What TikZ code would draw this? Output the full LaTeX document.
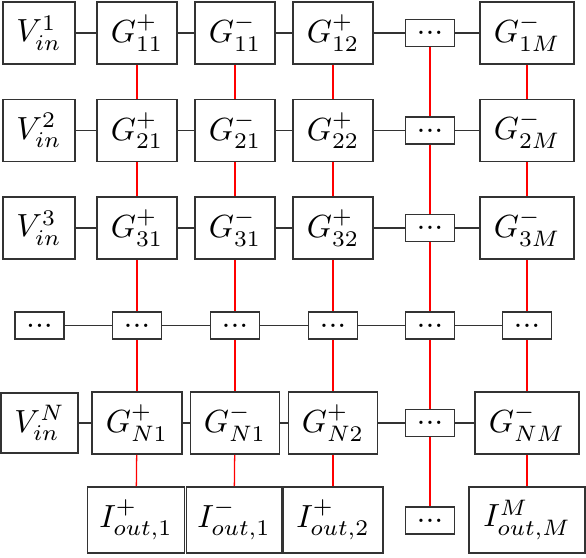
\documentclass[tikz,border=0pt]{standalone}
\begin{document}
\begin{tikzpicture}[x=0.3125pt,y=-0.3125pt,
  bx/.style={draw=black!80, line width=0.6pt, inner sep=0pt, minimum height=19.375pt,
     fill=white},
  gb/.style={bx, minimum width=25pt},
  vb/.style={bx, minimum width=22.5pt},
  db/.style={bx, minimum width=15.3pt, minimum height=8.45pt},
  ib/.style={bx, minimum height=20.6pt},
  hl/.style={draw=black!80, line width=0.6pt},
  rl/.style={draw=red, line width=0.4pt}]
\useasboundingbox (0,0) rectangle (586,558);
% row 1
\node[vb] (v1) at (39,33) {$V_{in}^{1}$};
\node[gb] (g11) at (137,33) {$G_{11}^{+}$};
\node[gb] (g12) at (235,33) {$G_{11}^{-}$};
\node[gb] (g13) at (333,33) {$G_{12}^{+}$};
\node[db] (g14) at (430,33) {...};
\node[gb, minimum width=29.4pt] (g15) at (527,33) {$G_{1M}^{-}$};
% row 2
\node[vb] (v2) at (39,130.5) {$V_{in}^{2}$};
\node[gb] (g21) at (137,130.5) {$G_{21}^{+}$};
\node[gb] (g22) at (235,130.5) {$G_{21}^{-}$};
\node[gb] (g23) at (333,130.5) {$G_{22}^{+}$};
\node[db] (g24) at (430,130.5) {...};
\node[gb, minimum width=29.4pt] (g25) at (527,130.5) {$G_{2M}^{-}$};
% row 3
\node[vb] (v3) at (39,228) {$V_{in}^{3}$};
\node[gb] (g31) at (137,228) {$G_{31}^{+}$};
\node[gb] (g32) at (235,228) {$G_{31}^{-}$};
\node[gb] (g33) at (333,228) {$G_{32}^{+}$};
\node[db] (g34) at (430,228) {...};
\node[gb, minimum width=29.4pt] (g35) at (527,228) {$G_{3M}^{-}$};
% dots row
\node[db] (v4) at (39.5,325.5) {...};
\node[db] (g41) at (137,325.5) {...};
\node[db] (g42) at (235,325.5) {...};
\node[db] (g43) at (333,325.5) {...};
\node[db] (g44) at (430,325.5) {...};
\node[db] (g45) at (527,325.5) {...};
% row N
\node[vb, minimum width=24.1pt, minimum height=18.75pt] (v5) at (39.5,423) {$V_{in}^{N}$};
\node[gb, minimum width=28.1pt] (g51) at (137,423) {$G_{N1}^{+}$};
\node[gb, minimum width=27.8pt] (g52) at (235,423) {$G_{N1}^{-}$};
\node[gb, minimum width=27.8pt] (g53) at (333,423) {$G_{N2}^{+}$};
\node[db] (g54) at (430,423) {...};
\node[gb, minimum width=32.5pt] (g55) at (527,423) {$G_{NM}^{-}$};
% outputs
\node[ib, minimum width=30.3pt] (o1) at (136,520) {$I_{out,1}^{+}$};
\node[ib, minimum width=29.7pt] (o2) at (234,520) {$I_{out,1}^{-}$};
\node[ib, minimum width=31.25pt] (o3) at (333,520) {$I_{out,2}^{+}$};
\node[db] (o4) at (430,520.5) {...};
\node[ib, minimum width=36.25pt] (o5) at (527,520) {$I_{out,M}^{M}$};
% horizontal connectors
\foreach \r in {1,...,5}{
  \draw[hl] (v\r) -- (g\r1);
  \draw[hl] (g\r1) -- (g\r2);
  \draw[hl] (g\r2) -- (g\r3);
  \draw[hl] (g\r3) -- (g\r4);
  \draw[hl] (g\r4) -- (g\r5);
}
% vertical connectors
\foreach \c in {1,...,5}{
  \draw[rl] (g1\c) -- (g2\c);
  \draw[rl] (g2\c) -- (g3\c);
  \draw[rl] (g3\c) -- (g4\c);
  \draw[rl] (g4\c) -- (g5\c);
  \draw[rl] (g5\c) -- (o\c);
}
\end{tikzpicture}
\end{document}
